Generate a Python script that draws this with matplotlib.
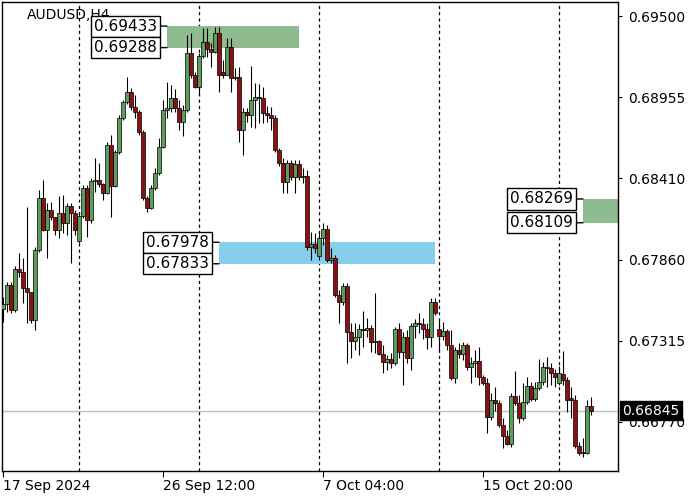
import matplotlib
matplotlib.use("Agg")
import matplotlib.pyplot as plt
import matplotlib.transforms as mtransforms
import numpy as np
import pandas as pd

symbol = "AUDUSD,H4"
first_bar = "2024-09-17 20:00"

opens = [0.67528, 0.67562, 0.67690, 0.67522, 0.67798, 0.67777, 0.67670, 0.67643, 0.67454, 0.67926,
         0.68275, 0.68060, 0.68195, 0.68148, 0.68060, 0.68175, 0.68107, 0.68222, 0.68175, 0.67986,
         0.68154, 0.68343, 0.68127, 0.68390, 0.68397, 0.68370, 0.68309, 0.68632, 0.68356, 0.68585,
         0.68814, 0.68921, 0.68989, 0.68888, 0.68854, 0.68720, 0.68275, 0.68208, 0.68343, 0.68444,
         0.68619, 0.68868, 0.68881, 0.68949, 0.68881, 0.68787, 0.68868, 0.69251, 0.69103, 0.69022,
         0.69231, 0.69325, 0.69278, 0.69258, 0.69386, 0.69123, 0.69103, 0.69292, 0.69083, 0.69090,
         0.68733, 0.68854, 0.68834, 0.68935, 0.68955, 0.68949, 0.68848, 0.68834, 0.68814, 0.68598,
         0.68511, 0.68383, 0.68511, 0.68417, 0.68504, 0.68417, 0.68424, 0.67946, 0.67966, 0.67885,
         0.68006, 0.68067, 0.67858, 0.67872, 0.67623, 0.67576, 0.67683, 0.67374, 0.67313, 0.67340,
         0.67394, 0.67387, 0.67401, 0.67306, 0.67313, 0.67226, 0.67172, 0.67192, 0.67165, 0.67394,
         0.67239, 0.67340, 0.67199, 0.67414, 0.67434, 0.67427, 0.67394, 0.67340, 0.67576, 0.67394,
         0.67347, 0.67380, 0.67286, 0.67064, 0.67252, 0.67226, 0.67286, 0.67138, 0.67165, 0.67179,
         0.67071, 0.67030, 0.66802, 0.66916, 0.66896, 0.66748, 0.66674, 0.66620, 0.66943, 0.66896,
         0.66795, 0.66903, 0.67010, 0.66923, 0.66997, 0.67037, 0.67138, 0.67131, 0.67098, 0.67030,
         0.67091, 0.67051, 0.66929, 0.66916, 0.66606, 0.66566, 0.66559, 0.66876]
highs = [0.67609, 0.67710, 0.67710, 0.67818, 0.67905, 0.67872, 0.68215, 0.67643, 0.67946, 0.68329,
         0.68397, 0.68242, 0.68249, 0.68148, 0.68289, 0.68296, 0.68242, 0.68242, 0.68195, 0.68175,
         0.68363, 0.68363, 0.68410, 0.68545, 0.68511, 0.68376, 0.68652, 0.68699, 0.68598, 0.68834,
         0.68935, 0.69090, 0.69016, 0.68969, 0.68868, 0.68733, 0.68289, 0.68363, 0.68477, 0.68679,
         0.68935, 0.69056, 0.69036, 0.69009, 0.68935, 0.68901, 0.69372, 0.69386, 0.69123, 0.69251,
         0.69420, 0.69420, 0.69319, 0.69426, 0.69426, 0.69204, 0.69352, 0.69352, 0.69150, 0.69157,
         0.68881, 0.68881, 0.69164, 0.69049, 0.69043, 0.69022, 0.68895, 0.68888, 0.68834, 0.68612,
         0.68545, 0.68531, 0.68531, 0.68531, 0.68531, 0.68477, 0.68464, 0.68047, 0.68040, 0.68040,
         0.68107, 0.68094, 0.67939, 0.67892, 0.67656, 0.67703, 0.67703, 0.67434, 0.67434, 0.67427,
         0.67515, 0.67468, 0.67421, 0.67636, 0.67320, 0.67286, 0.67219, 0.67232, 0.67407, 0.67434,
         0.67374, 0.67387, 0.67434, 0.67461, 0.67502, 0.67468, 0.67434, 0.67603, 0.67603, 0.67454,
         0.67441, 0.67394, 0.67387, 0.67273, 0.67300, 0.67306, 0.67300, 0.67205, 0.67252, 0.67273,
         0.67084, 0.67064, 0.66963, 0.67004, 0.66916, 0.66795, 0.66714, 0.66963, 0.67111, 0.66950,
         0.67030, 0.67071, 0.67037, 0.67037, 0.67192, 0.67172, 0.67205, 0.67165, 0.67125, 0.67145,
         0.67246, 0.67071, 0.67004, 0.66950, 0.66633, 0.66660, 0.66916, 0.66936]
lows = [0.67441, 0.67508, 0.67502, 0.67508, 0.67744, 0.67569, 0.67434, 0.67434, 0.67387, 0.67912,
        0.68053, 0.67872, 0.68127, 0.68026, 0.68006, 0.68040, 0.68026, 0.67838, 0.68026, 0.67973,
        0.68141, 0.68013, 0.68107, 0.68316, 0.68350, 0.68262, 0.68302, 0.68148, 0.68350, 0.68572,
        0.68800, 0.68908, 0.68868, 0.68814, 0.68699, 0.68262, 0.68181, 0.68201, 0.68329, 0.68430,
        0.68612, 0.68814, 0.68854, 0.68854, 0.68733, 0.68693, 0.68854, 0.69083, 0.69016, 0.68969,
        0.69218, 0.69224, 0.69157, 0.69251, 0.68989, 0.69083, 0.69117, 0.68989, 0.69070, 0.68652,
        0.68565, 0.68787, 0.68753, 0.68747, 0.68780, 0.68780, 0.68787, 0.68733, 0.68585, 0.68491,
        0.68309, 0.68309, 0.68397, 0.68309, 0.68397, 0.68376, 0.67926, 0.67858, 0.67905, 0.67858,
        0.67959, 0.67845, 0.67838, 0.67609, 0.67434, 0.67555, 0.67165, 0.67199, 0.67252, 0.67219,
        0.67273, 0.67340, 0.67239, 0.67232, 0.67219, 0.67098, 0.67118, 0.67131, 0.67152, 0.67199,
        0.67017, 0.67165, 0.67118, 0.67333, 0.67367, 0.67327, 0.67259, 0.67273, 0.67488, 0.67239,
        0.67320, 0.67252, 0.67051, 0.67030, 0.67199, 0.67185, 0.67118, 0.67030, 0.67071, 0.67017,
        0.67017, 0.66694, 0.66781, 0.66842, 0.66734, 0.66593, 0.66613, 0.66600, 0.66882, 0.66763,
        0.66781, 0.66889, 0.66909, 0.66909, 0.66983, 0.67017, 0.67004, 0.67017, 0.67004, 0.67017,
        0.67017, 0.66835, 0.66795, 0.66593, 0.66546, 0.66532, 0.66553, 0.66815]
closes = [0.67562, 0.67690, 0.67522, 0.67798, 0.67777, 0.67670, 0.67643, 0.67454, 0.67926, 0.68275,
          0.68060, 0.68195, 0.68148, 0.68060, 0.68175, 0.68107, 0.68222, 0.68175, 0.68060, 0.68154,
          0.68343, 0.68127, 0.68390, 0.68397, 0.68370, 0.68309, 0.68632, 0.68356, 0.68585, 0.68814,
          0.68921, 0.68989, 0.68888, 0.68854, 0.68720, 0.68275, 0.68208, 0.68343, 0.68444, 0.68619,
          0.68868, 0.68881, 0.68949, 0.68881, 0.68787, 0.68868, 0.69251, 0.69103, 0.69022, 0.69231,
          0.69325, 0.69278, 0.69258, 0.69386, 0.69103, 0.69103, 0.69292, 0.69083, 0.69090, 0.68733,
          0.68854, 0.68834, 0.68935, 0.68955, 0.68949, 0.68848, 0.68834, 0.68814, 0.68598, 0.68511,
          0.68383, 0.68511, 0.68417, 0.68504, 0.68417, 0.68424, 0.67946, 0.67966, 0.67939, 0.68006,
          0.68067, 0.67858, 0.67872, 0.67623, 0.67576, 0.67683, 0.67374, 0.67313, 0.67340, 0.67394,
          0.67387, 0.67401, 0.67306, 0.67313, 0.67226, 0.67172, 0.67192, 0.67165, 0.67394, 0.67239,
          0.67340, 0.67199, 0.67414, 0.67434, 0.67427, 0.67394, 0.67340, 0.67576, 0.67502, 0.67347,
          0.67380, 0.67286, 0.67064, 0.67252, 0.67226, 0.67286, 0.67138, 0.67165, 0.67179, 0.67071,
          0.67030, 0.66802, 0.66916, 0.66896, 0.66748, 0.66674, 0.66620, 0.66943, 0.66896, 0.66795,
          0.66903, 0.67010, 0.66923, 0.66997, 0.67037, 0.67138, 0.67131, 0.67098, 0.67071, 0.67098,
          0.67051, 0.66916, 0.66916, 0.66606, 0.66559, 0.66559, 0.66876, 0.66845]

# price axis
y_ticks = [0.69500, 0.68955, 0.68410, 0.67860, 0.67315, 0.66770]
y_range = (0.66438, 0.69595)

# time labels shown under the chart
x_label_times = ["2024-09-17 20:00", "2024-09-26 12:00", "2024-10-07 04:00", "2024-10-15 20:00"]
x_labels = ["17 Sep 2024", "26 Sep 12:00", "7 Oct 04:00", "15 Oct 20:00"]

# supply / demand zones: top, bottom, first bar, last bar (None = to the right edge), colour
zone_top = [0.69433, 0.67978, 0.68269]
zone_bottom = [0.69288, 0.67833, 0.68109]
zone_start = [41, 54, 145]
zone_end = [74, 108, None]
zone_color = ["#8fbc8f", "#87ceeb", "#8fbc8f"]


# H4 bar times, weekends skipped
times = []
t = pd.Timestamp(first_bar)
while len(times) < len(closes):
    if t.weekday() < 5:
        times.append(t)
    t += pd.Timedelta(hours=4)
times = pd.DatetimeIndex(times)

n = len(closes)
x = np.arange(n)
o = np.array(opens)
h = np.array(highs)
l = np.array(lows)
c = np.array(closes)

fig = plt.figure(figsize=(7, 5), dpi=100)
ax = fig.add_axes([2 / 700, 29 / 500, 616 / 700, 469 / 500])
x_max = 153.75

up = c >= o
ax.vlines(x, l, h, color="black", lw=0.8, zorder=3)
body_low = np.minimum(o, c)
body_h = np.abs(c - o)
ax.bar(x[up], body_h[up], bottom=body_low[up], width=0.78, facecolor="#5a9e5a",
       edgecolor="black", linewidth=0.5, zorder=4)
ax.bar(x[~up], body_h[~up], bottom=body_low[~up], width=0.78, facecolor="#8b1212",
       edgecolor="black", linewidth=0.5, zorder=4)

ax.set_xlim(-0.25, x_max)
ax.set_ylim(*y_range)

# weekly separators
for i, ts in enumerate(times):
    if ts.weekday() == 0 and ts.hour == 0:
        ax.axvline(i, color="black", lw=0.9, ls=(0, (2.5, 2.5)), zorder=1)

# last price line
last = closes[-1]
ax.axhline(last, color="#c0c0c0", lw=1, zorder=0.5)

# zones and their price tags
box = dict(boxstyle="square,pad=0.2", fc="white", ec="black", lw=1)
for top, bot, s, e, col in zip(zone_top, zone_bottom, zone_start, zone_end, zone_color):
    right = x_max if e is None else e
    ax.fill_between([s, right], bot, top, color=col, lw=0, zorder=2)
    for p in (top, bot):
        ax.annotate("%.5f" % p, xy=(s, p), xytext=(-7, 0), textcoords="offset points",
                    ha="right", va="center", fontsize=11, bbox=box, zorder=6,
                    arrowprops=dict(arrowstyle="-", lw=1, color="black", shrinkA=0, shrinkB=0))

ax.text(0.04, 0.972, symbol, transform=ax.transAxes, ha="left", va="center",
        fontsize=10, zorder=5)

# axes styling
for sp in ax.spines.values():
    sp.set_color("black")
    sp.set_linewidth(1)
ax.yaxis.tick_right()
ax.set_yticks(y_ticks)
ax.set_yticklabels(["%.5f" % v for v in y_ticks])
ax.tick_params(axis="y", direction="out", length=3, pad=4, labelsize=10)

tick_pos = [times.get_loc(pd.Timestamp(s)) for s in x_label_times]
ax.set_xticks(tick_pos)
ax.set_xticklabels(x_labels)
for lbl in ax.get_xticklabels():
    lbl.set_horizontalalignment("left")
ax.tick_params(axis="x", direction="out", length=4, pad=2, labelsize=10)

blend = mtransforms.blended_transform_factory(ax.transAxes, ax.transData)
ax.annotate("%.5f" % last, xy=(1, last), xycoords=blend, xytext=(3, 0),
            textcoords="offset points", ha="left", va="center", fontsize=10,
            color="white", zorder=10,
            bbox=dict(boxstyle="square,pad=0.15", fc="black", ec="black"))

fig.savefig("out.png", dpi=100)
